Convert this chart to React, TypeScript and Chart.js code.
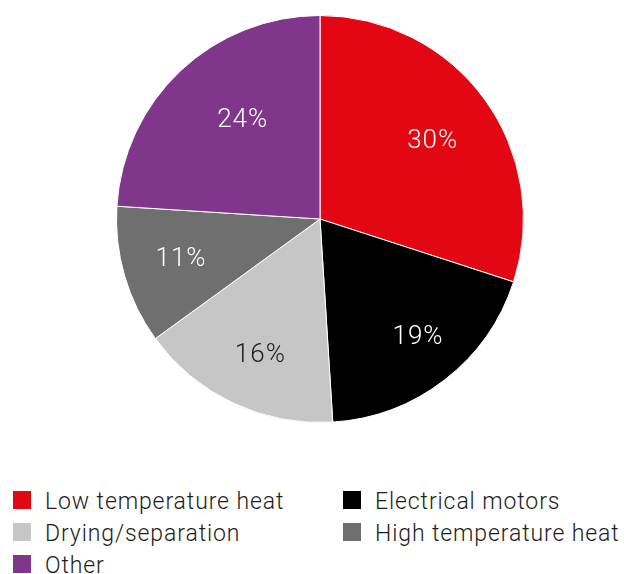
import React, { useEffect, useRef } from "react";
import { Chart, registerables } from "chart.js";

Chart.register(...registerables);

const categories = [
  "Low temperature heat",
  "Electrical motors",
  "Drying/separation",
  "High temperature heat",
  "Other",
];
const shares = [30, 19, 16, 11, 24];
const sliceColors = ["#e30613", "#000000", "#c6c6c6", "#706f6f", "#7f368b"];
const labelColors = ["#ffffff", "#ffffff", "#1d1d1b", "#ffffff", "#ffffff"];

// Per-slice label placement: fraction of the radius and a small angular nudge (degrees)
const labelRadius = [0.68, 0.745, 0.72, 0.708, 0.624];
const labelNudge = [0.5, -2.5, -1.2, 0.9, 5.7];

const FONT = "Roboto, 'Helvetica Neue', Arial, sans-serif";
const LABEL_SIZE = 26;

// Writes each share as a percentage inside its slice
const sliceLabels = {
  id: "sliceLabels",
  afterDatasetsDraw(chart: any) {
    const { ctx } = chart;
    const meta = chart.getDatasetMeta(0);
    ctx.save();
    ctx.font = `300 ${LABEL_SIZE}px ${FONT}`;
    (ctx as any).letterSpacing = "1px";
    ctx.textAlign = "center";
    ctx.textBaseline = "alphabetic";
    meta.data.forEach((arc: any, i: number) => {
      const { x, y, startAngle, endAngle, outerRadius } = arc.getProps(
        ["x", "y", "startAngle", "endAngle", "outerRadius"],
        true
      );
      const mid = (startAngle + endAngle) / 2 + (labelNudge[i] * Math.PI) / 180;
      const r = outerRadius * labelRadius[i];
      const cx = x + Math.cos(mid) * r;
      const cy = y + Math.sin(mid) * r;
      ctx.fillStyle = labelColors[i];
      ctx.fillText(`${shares[i]}%`, cx, cy + LABEL_SIZE * 0.355);
    });
    ctx.restore();
  },
};

export default function App() {
  const canvasRef = useRef<HTMLCanvasElement | null>(null);

  useEffect(() => {
    document.body.style.margin = "0";
    const chart = new Chart(canvasRef.current as HTMLCanvasElement, {
      type: "pie",
      data: {
        labels: categories,
        datasets: [
          {
            data: shares,
            backgroundColor: sliceColors,
            borderColor: "#ffffff",
            borderWidth: 1,
          },
        ],
      },
      options: {
        responsive: false,
        animation: false,
        layout: { padding: { top: 15, bottom: 15, left: 16, right: 0 } },
        plugins: {
          legend: { display: false },
          tooltip: { enabled: false },
        },
      },
      plugins: [sliceLabels],
    });
    return () => chart.destroy();
  }, []);

  // two-column legend: items flow left to right, row by row
  const rows: number[][] = [];
  for (let i = 0; i < categories.length; i += 2) {
    rows.push([i, i + 1].filter((k) => k < categories.length));
  }

  return (
    <div
      style={{
        position: "absolute",
        left: 0,
        top: 0,
        width: 624,
        height: 574,
        background: "#ffffff",
        fontFamily: FONT,
        overflow: "hidden",
      }}
    >
      <canvas ref={canvasRef} width={624} height={438} style={{ display: "block" }} />
      {rows.map((row, ri) => (
        <div
          key={ri}
          style={{
            position: "absolute",
            top: 491 + ri * 32,
            left: 0,
            height: 18,
            width: 624,
          }}
        >
          {row.map((k, ci) => (
            <div
              key={k}
              style={{
                position: "absolute",
                left: 13 + ci * 330,
                top: 0,
                display: "flex",
                alignItems: "center",
                height: 18,
                whiteSpace: "nowrap",
              }}
            >
              <span
                style={{
                  display: "inline-block",
                  width: 18,
                  height: 18,
                  background: sliceColors[k],
                  marginRight: 14,
                  flex: "none",
                }}
              />
              <span
                style={{
                  fontSize: 23,
                  fontWeight: 300,
                  letterSpacing: "0.9px",
                  color: "#1d1d1b",
                  lineHeight: "18px",
                  position: "relative",
                  top: 1.5,
                }}
              >
                {categories[k]}
              </span>
            </div>
          ))}
        </div>
      ))}
    </div>
  );
}
